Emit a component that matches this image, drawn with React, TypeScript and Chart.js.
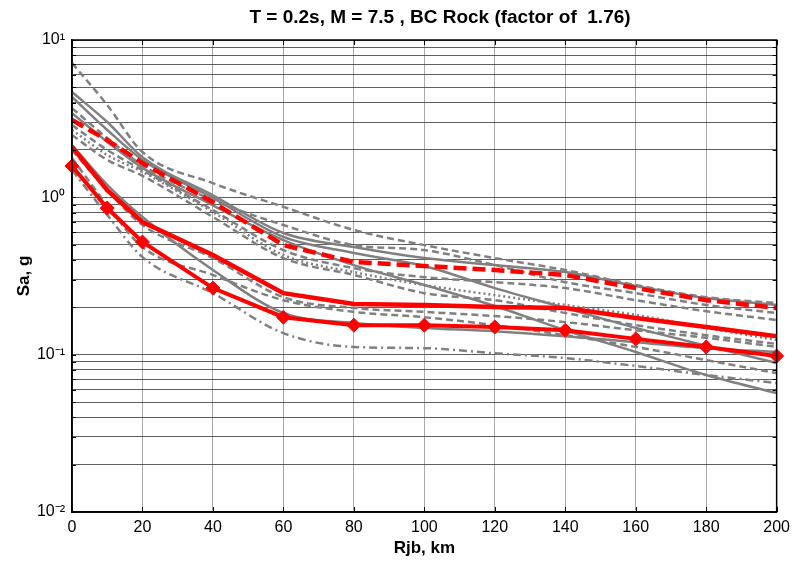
import React, { useEffect, useRef } from 'react';
import { Chart, registerables } from 'chart.js';

Chart.register(...registerables);

// ---- data ----
const distanceKm = [0, 10, 20, 40, 60, 80, 100, 120, 140, 160, 180, 200];
const xTickStep = 20;
const yDecadeLabels: Record<string, string> = { '-2': '10\u207B\u00B2', '-1': '10\u207B\u00B9', '0': '10\u2070', '1': '10\u00B9' };
const yDecades = [-2, -1, 0];
const yMantissas = [1, 2, 3, 4, 5, 6, 7, 8, 9];

const redDashed = [3.10, 2.31, 1.65, 0.93, 0.497, 0.388, 0.366, 0.345, 0.321, 0.265, 0.222, 0.198];
const redSolid = [2.09, 1.11, 0.697, 0.43, 0.246, 0.21, 0.207, 0.201, 0.198, 0.171, 0.15, 0.131];
const redDiamond = [1.58, 0.855, 0.52, 0.265, 0.173, 0.154, 0.154, 0.15, 0.143, 0.126, 0.112, 0.098];

const grayDashed1 = [7.14, 3.86, 1.94, 1.23, 0.87, 0.62, 0.497, 0.411, 0.345, 0.277, 0.232, 0.213];
const graySolid1 = [4.67, 3.01, 1.80, 1.03, 0.593, 0.483, 0.411, 0.371, 0.335, 0.273, 0.229, 0.207];
const graySolid2 = [4.34, 2.68, 1.73, 0.99, 0.56, 0.443, 0.366, 0.265, 0.198, 0.148, 0.114, 0.0885];
const grayDashed2 = [3.69, 2.38, 1.60, 0.96, 0.667, 0.497, 0.462, 0.371, 0.289, 0.246, 0.207, 0.184];
const graySolid3 = [3.43, 2.25, 1.54, 0.89, 0.535, 0.371, 0.277, 0.204, 0.143, 0.104, 0.0743, 0.057];
const grayDashed3 = [2.88, 2.00, 1.49, 0.83, 0.462, 0.355, 0.311, 0.289, 0.265, 0.222, 0.189, 0.166];
const grayDotted = [2.68, 1.86, 1.45, 0.806, 0.43, 0.335, 0.277, 0.239, 0.207, 0.179, 0.148, 0.124];
const grayDashed4 = [2.49, 1.73, 1.37, 0.75, 0.411, 0.321, 0.246, 0.222, 0.184, 0.154, 0.133, 0.117];
const graySolid4 = [2.15, 1.20, 0.75, 0.345, 0.184, 0.159, 0.148, 0.141, 0.131, 0.12, 0.110, 0.104];
const grayDashed5 = [2.00, 1.11, 0.667, 0.411, 0.232, 0.198, 0.187, 0.176, 0.161, 0.143, 0.128, 0.112];
const grayDashed6 = [1.78, 0.89, 0.483, 0.321, 0.222, 0.187, 0.173, 0.154, 0.133, 0.112, 0.0924, 0.0764];
const grayDashDot = [1.49, 0.772, 0.417, 0.246, 0.137, 0.112, 0.110, 0.102, 0.0952, 0.0847, 0.0743, 0.066];

const titleText = 'T = 0.2s, M = 7.5 , BC Rock (factor of  1.76)';
const xTitle = 'Rjb, km';
const yTitle = 'Sa, g';

// ---- styles ----
const GRAY = 'rgb(128,128,128)';
const RED = 'rgb(255,0,0)';
const FONT = "'Liberation Sans', Arial, Helvetica, sans-serif";
const DASH = [7, 4];
const DOT = [2, 3];
const DASHDOT = [8, 4, 2, 4];

const pts = (vals: number[]) => vals.map((y, i) => ({ x: distanceKm[i], y }));

function grayLine(label: string, vals: number[], dash: number[]) {
  return {
    label,
    data: pts(vals),
    borderColor: GRAY,
    backgroundColor: GRAY,
    borderWidth: 2.5,
    borderDash: dash,
    pointRadius: 0,
    cubicInterpolationMode: 'monotone' as const,
    fill: false,
  };
}

const boxPlugin = {
  id: 'axesBox',
  afterDraw(chart: any) {
    const { ctx, chartArea } = chart;
    const { left, right, top, bottom } = chartArea;
    ctx.save();
    ctx.strokeStyle = '#000';
    ctx.lineWidth = 1.5;
    ctx.strokeRect(left, top, right - left, bottom - top);
    // inward tick marks
    ctx.lineWidth = 1;
    const xs = chart.scales.x;
    xs.ticks.forEach((t: any) => {
      const px = Math.round(xs.getPixelForValue(t.value)) + 0.5;
      ctx.beginPath();
      ctx.moveTo(px, top);
      ctx.lineTo(px, top + 5);
      ctx.moveTo(px, bottom);
      ctx.lineTo(px, bottom - 5);
      ctx.stroke();
    });
    const ys = chart.scales.y;
    ys.ticks.forEach((t: any) => {
      const py = Math.round(ys.getPixelForValue(t.value)) + 0.5;
      ctx.beginPath();
      ctx.moveTo(left, py);
      ctx.lineTo(left + 4, py);
      ctx.moveTo(right, py);
      ctx.lineTo(right - 4, py);
      ctx.stroke();
    });
    // title over the axes
    ctx.fillStyle = '#000';
    ctx.font = `bold 19px ${FONT}`;
    ctx.textAlign = 'center';
    ctx.textBaseline = 'middle';
    ctx.fillText(titleText, 440, 18);
    ctx.restore();
  },
};

export default function App() {
  const ref = useRef<HTMLCanvasElement | null>(null);

  useEffect(() => {
    if (!ref.current) return;
    const yTickValues: number[] = [];
    yDecades.forEach((d) => yMantissas.forEach((m) => yTickValues.push(m * Math.pow(10, d))));
    yTickValues.push(10);

    const chart = new Chart(ref.current, {
      type: 'line',
      data: {
        datasets: [
          {
            label: 'diamond',
            data: pts(redDiamond),
            borderColor: RED,
            backgroundColor: RED,
            borderWidth: 4,
            pointStyle: 'rectRot',
            pointRadius: 7,
            pointBorderWidth: 1,
            tension: 0,
            clip: false,
          },
          {
            label: 'red solid',
            data: pts(redSolid),
            borderColor: RED,
            borderWidth: 4.5,
            pointRadius: 0,
            tension: 0,
          },
          {
            label: 'red dashed',
            data: pts(redDashed),
            borderColor: RED,
            borderWidth: 4.5,
            borderDash: [13, 6],
            pointRadius: 0,
            tension: 0,
          },
          grayLine('g1', grayDashed1, DASH),
          grayLine('s1', graySolid1, []),
          grayLine('s2', graySolid2, []),
          grayLine('g2', grayDashed2, DASH),
          grayLine('s3', graySolid3, []),
          grayLine('g3', grayDashed3, DASH),
          grayLine('p', grayDotted, DOT),
          grayLine('g4', grayDashed4, DASH),
          grayLine('s4', graySolid4, []),
          grayLine('g5', grayDashed5, DASH),
          grayLine('g6', grayDashed6, DASH),
          grayLine('dd', grayDashDot, DASHDOT),
        ] as any,
      },
      options: {
        animation: false,
        responsive: true,
        maintainAspectRatio: false,
        layout: { padding: { left: 0, right: 19, top: 40, bottom: 0 } },
        plugins: {
          legend: { display: false },
          tooltip: { enabled: false },
          title: { display: false, text: titleText },
        },
        scales: {
          x: {
            type: 'linear',
            min: 0,
            max: 200,
            ticks: {
              stepSize: xTickStep,
              color: '#000',
              padding: 6,
              font: { family: FONT, size: 16 },
            },
            grid: { color: '#a8a8a8', lineWidth: 1, drawTicks: false },
            border: { color: '#000', width: 1.5 },
            title: {
              display: true,
              text: xTitle,
              color: '#000',
              font: { family: FONT, size: 17, weight: 'bold' },
              padding: { top: 0, bottom: 2 },
            },
            afterFit: (s: any) => {
              s.height = 49;
            },
          },
          y: {
            type: 'logarithmic',
            min: 0.01,
            max: 10,
            afterBuildTicks: (s: any) => {
              s.ticks = yTickValues.map((v) => ({ value: v, major: false }));
            },
            ticks: {
              autoSkip: false,
              color: '#000',
              padding: 7,
              font: { family: FONT, size: 16 },
              callback: (v: any) => {
                const e = Math.log10(Number(v));
                const r = Math.round(e);
                return Math.abs(e - r) < 1e-6 ? yDecadeLabels[String(r)] : '';
              },
            },
            grid: { color: 'rgba(40,40,40,0.75)', lineWidth: 1, drawTicks: false },
            border: { color: '#000', width: 1.5 },
            title: {
              display: true,
              text: yTitle,
              color: '#000',
              font: { family: FONT, size: 17, weight: 'bold' },
              padding: { top: 14, bottom: 0 },
            },
            afterFit: (s: any) => {
              s.width = 72;
            },
          },
        },
      },
      plugins: [boxPlugin],
    });
    return () => chart.destroy();
  }, []);

  return (
    <div style={{ position: 'absolute', left: 0, top: 0, width: 796, height: 561, background: '#fff' }}>
      <canvas ref={ref} />
    </div>
  );
}
